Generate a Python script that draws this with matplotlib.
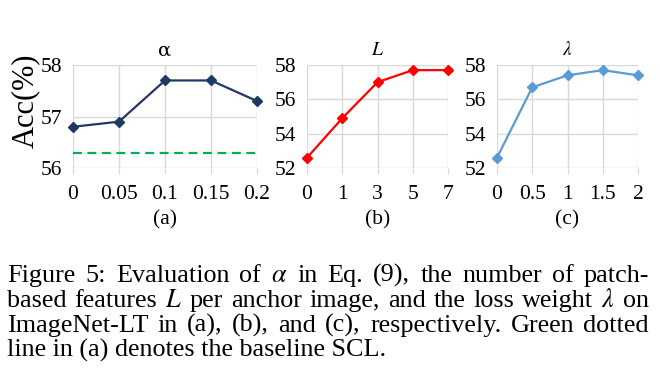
import matplotlib
matplotlib.use("Agg")
import matplotlib.pyplot as plt

plt.rcParams['font.family'] = ['Liberation Serif', 'DejaVu Serif']
plt.rcParams['mathtext.fontset'] = 'stix'

# values
alpha_labels = ['0', '0.05', '0.1', '0.15', '0.2']
alpha_acc = [56.8, 56.9, 57.7, 57.7, 57.3]
scl_baseline = 56.3

L_labels = ['0', '1', '3', '5', '7']
L_acc = [52.6, 54.9, 57.0, 57.7, 57.7]

lam_labels = ['0', '0.5', '1', '1.5', '2']
lam_acc = [52.6, 56.7, 57.4, 57.7, 57.4]

caption_lines = [
    r"Figure 5: Evaluation of $\alpha$ in Eq. (9), the number of patch-",
    r"based features $L$ per anchor image, and the loss weight $\lambda$ on",
    r"ImageNet-LT in (a), (b), and (c), respectively. Green dotted",
    r"line in (a) denotes the baseline SCL.",
]

W, H = 660, 382
fig = plt.figure(figsize=(W / 100, H / 100), dpi=100)


def px_axes(x0, x1, y0, y1):
    return fig.add_axes([x0 / W, 1 - y1 / H, (x1 - x0) / W, (y1 - y0) / H])


def style(ax, labels, yticks, ylim, title, sub):
    ax.set_xlim(0, len(labels) - 1)
    ax.set_ylim(*ylim)
    ax.set_xticks(range(len(labels)))
    ax.set_xticklabels(labels)
    ax.set_yticks(yticks)
    for s in ax.spines.values():
        s.set_visible(False)
    ax.grid(True, color='#d9d9d9', linewidth=1)
    ax.set_axisbelow(True)
    ax.tick_params(axis='x', length=4, color='#d9d9d9', labelsize=15.5, pad=8)
    ax.tick_params(axis='y', length=0, labelsize=15.5, pad=8)
    if title:
        ax.set_title(title, fontsize=14, pad=7)
    ax.text(0.5, -0.505, sub, transform=ax.transAxes, ha='center', va='center',
            fontsize=15.5)


ax1 = px_axes(73, 257, 65, 168)
ax1.plot(range(len(alpha_acc)), alpha_acc, color='#203864', lw=1.6,
         marker='D', ms=5, clip_on=False)
ax1.axhline(scl_baseline, color='#00b050', lw=1.6, ls=(0, (4, 2.5)))
style(ax1, alpha_labels, [56, 57, 58], (56, 58), None, '(a)')
ax1.set_title('α', fontsize=14, pad=7, family='DejaVu Serif')
fig.text(25 / W, 1 - 101 / H, 'Acc(%)', fontsize=22, rotation=90,
         ha='center', va='center')

ax2 = px_axes(307, 448, 65, 168)
ax2.plot(range(len(L_acc)), L_acc, color='#ff0000', lw=1.6,
         marker='D', ms=5, clip_on=False)
style(ax2, L_labels, [52, 54, 56, 58], (52, 58), r'$L$', '(b)')

ax3 = px_axes(497, 638, 65, 168)
ax3.plot(range(len(lam_acc)), lam_acc, color='#5b9bd5', lw=1.6,
         marker='D', ms=5, clip_on=False)
style(ax3, lam_labels, [52, 54, 56, 58], (52, 58), r'$\lambda$', '(c)')

# justified caption
left, right = 7, 649
baselines = [282, 307, 332, 357]
cap_size = 18.8
renderer = fig.canvas.get_renderer()
for i, line in enumerate(caption_lines):
    y = 1 - baselines[i] / H
    if i == len(caption_lines) - 1:
        fig.text(left / W, y, line, fontsize=cap_size, va='baseline', ha='left')
        continue
    words = line.split(' ')
    texts = [fig.text(0, y, w, fontsize=cap_size, va='baseline', ha='left') for w in words]
    widths = [t.get_window_extent(renderer).width for t in texts]
    gap = (right - left - sum(widths)) / (len(words) - 1)
    x = left
    for t, w in zip(texts, widths):
        t.set_x(x / W)
        x += w + gap

fig.savefig('out.png', dpi=100)
